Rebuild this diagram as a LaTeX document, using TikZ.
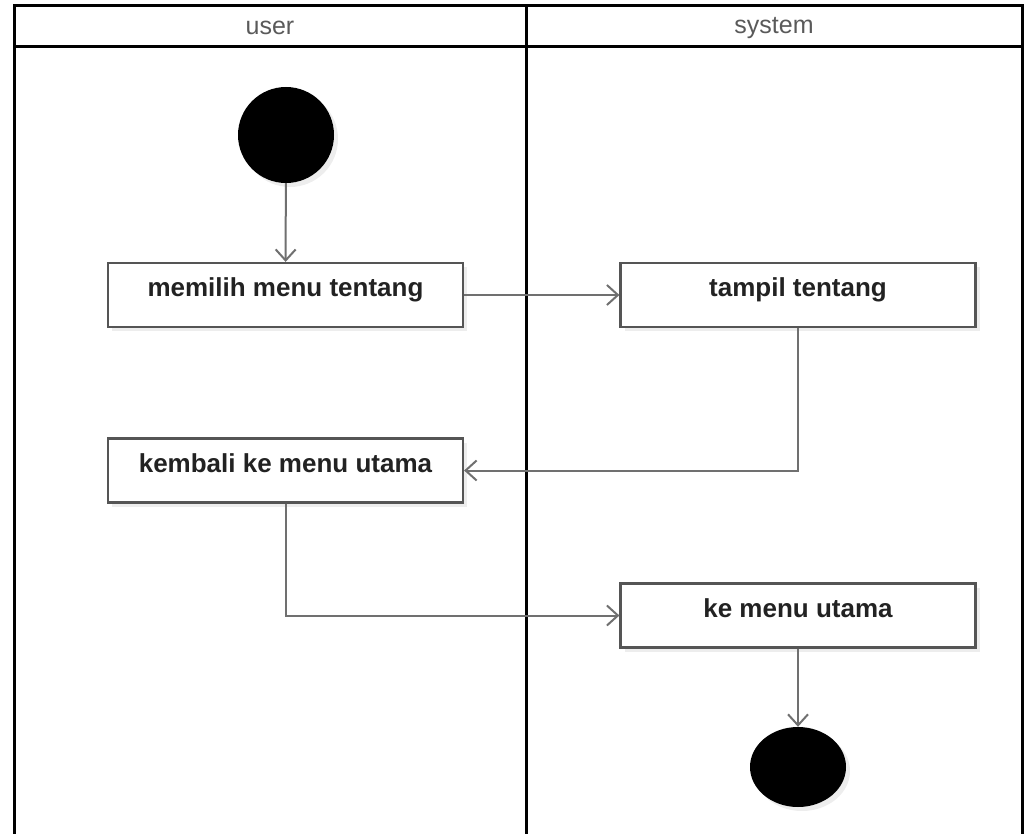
\documentclass[tikz,border=0pt]{standalone}
\usepackage{fontspec}
\setmainfont{Liberation Sans}
\usetikzlibrary{arrows.meta,shapes.geometric,shadows}
\definecolor{boxline}{HTML}{555555}
\definecolor{flowline}{HTML}{707070}
\definecolor{labeltext}{HTML}{222222}
\definecolor{headtext}{HTML}{5A5A5A}
\tikzset{
  lane/.style={line width=3pt, black},
  lanehead/.style={font=\fontsize{25}{29}\selectfont, text=headtext},
  activity/.style={draw=boxline, line width=2.2pt, fill=white,
    minimum width=355pt, minimum height=64pt, inner sep=0pt,
    text height=0.72em, text depth=0.4em,
    font=\bfseries\fontsize{26}{30}\selectfont, text=labeltext,
    drop shadow={shadow xshift=4pt, shadow yshift=-4pt, opacity=0.07, fill=black}},
  startnode/.style={circle, fill=black, minimum size=96pt, inner sep=0pt,
    drop shadow={shadow xshift=4pt, shadow yshift=-4pt, opacity=0.07, fill=black}},
  endnode/.style={ellipse, fill=black, minimum width=96pt, minimum height=80pt, inner sep=0pt,
    drop shadow={shadow xshift=4pt, shadow yshift=-4pt, opacity=0.07, fill=black}},
  flow/.style={draw=flowline, line width=2pt,
    -{Straight Barb[length=11pt, width=20pt, line width=2pt]}},
}
\begin{document}
\begin{tikzpicture}[x=1pt, y=-1pt]
  \useasboundingbox (0,0) rectangle (1027,834);
  \fill[white] (0,0) rectangle (1027,834);

  % swimlane frame
  \draw[lane] (14,845) -- (14,6) -- (1022,6) -- (1022,845);
  \draw[lane] (14,47) -- (1022,47);
  \draw[lane] (526,6) -- (526,845);
  \node[lanehead] (hUser) at (270,28) {user};
  \node[lanehead] (hSystem) at (774,28) {system};

  % activities
  \node[startnode] (start) at (286,135) {};
  \node[activity] (pilih) at (285.5,295) {memilih menu tentang};
  \node[activity] (tampil) at (798,295) {tampil tentang};
  \node[activity] (kembali) at (285.5,470.5) {kembali ke menu utama};
  \node[activity] (kemenu) at (798,615.5) {ke menu utama};
  \node[endnode] (finish) at (798,767) {};

  % control flow
  \draw[flow] (start) -- (pilih);
  \draw[flow] (pilih) -- (tampil);
  \draw[flow] (tampil.south) |- (kembali.east);
  \draw[flow] (kembali.south) |- (kemenu.west);
  \draw[flow] (kemenu) -- (finish);
\end{tikzpicture}
\end{document}
